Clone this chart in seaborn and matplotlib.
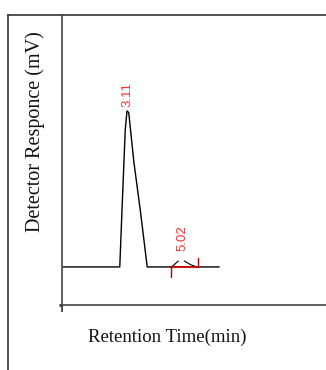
import numpy as np
import pandas as pd
import matplotlib
matplotlib.use("Agg")
import matplotlib.pyplot as plt
import seaborn as sns

# ─────────────────────────────────────────────
# DADOS (lidos do cromatograma)
# ─────────────────────────────────────────────

# traço principal: linha de base + pico em 3.11 min
tempo_min = [0.86, 2.86, 2.96, 3.05, 3.11, 3.17, 3.35, 3.58, 3.81, 6.30]
resposta_mv = [0.0, 0.0, 47.0, 88.0, 100.0, 99.0, 67.0, 35.0, 0.0, 0.0]

# pico pequeno em 5.02 min (dois trechos, com falha no topo)
pico2_subida_t = [4.65, 4.89]
pico2_subida_v = [0.0, 3.8]
pico2_descida_t = [5.09, 5.33, 5.54]
pico2_descida_v = [3.8, 1.3, 0.0]

# integração do pico pequeno (marcas vermelhas)
integ_inicio = 4.65
integ_fim = 5.57

# rótulos dos picos
rotulos_tr = ["3.11", "5.02"]
rotulos_altura = [100.0, 3.8]
rotulos_offset = [3, 7]

# ─────────────────────────────────────────────
# FIGURA
# ─────────────────────────────────────────────

sns.set_style("white")
plt.rcParams["font.family"] = ["Liberation Serif", "DejaVu Serif"]

W, H = 326, 370
fig = plt.figure(figsize=(W / 100, H / 100), dpi=100)

# moldura externa (só esquerda e topo)
moldura = fig.add_axes([8 / W, 0, 1 - 8 / W, 1 - 15 / H])
for lado in ["right", "bottom"]:
    moldura.spines[lado].set_visible(False)
for lado in ["left", "top"]:
    moldura.spines[lado].set_color("#333333")
    moldura.spines[lado].set_linewidth(1.2)
moldura.set_xticks([])
moldura.set_yticks([])
moldura.patch.set_alpha(0)

ax = fig.add_axes([62 / W, (H - 305) / H, 1 - 62 / W, (305 - 15) / H])
ax.patch.set_alpha(0)

x0, x1 = 0.86, 10.0
y0, y1 = -24.4, 161.5
ax.set_xlim(x0, x1)
ax.set_ylim(y0, y1)

df = pd.DataFrame({"t": tempo_min, "v": resposta_mv})
sns.lineplot(data=df, x="t", y="v", sort=False, estimator=None,
             color="black", linewidth=1.0, ax=ax)
sns.lineplot(x=pico2_subida_t, y=pico2_subida_v, sort=False, estimator=None,
             color="black", linewidth=0.8, ax=ax)
sns.lineplot(x=pico2_descida_t, y=pico2_descida_v, sort=False, estimator=None,
             color="black", linewidth=0.8, ax=ax)

# linha de integração
ax.plot([integ_inicio, integ_fim], [0, 0], color="#e00000", linewidth=1.2)
ax.plot([integ_inicio, integ_inicio], [0, -6.4], color="#b00000", linewidth=1.0)
ax.plot([integ_fim, integ_fim], [0, 5.8], color="#b00000", linewidth=1.0)

for tr, alt, off in zip(rotulos_tr, rotulos_altura, rotulos_offset):
    ax.annotate(tr, xy=(float(tr), alt), xytext=(0, off), textcoords="offset points",
                rotation=90, ha="center", va="bottom", color="#ff3030",
                fontsize=9.5, family=["Liberation Sans", "DejaVu Sans"])

for lado in ["right", "top"]:
    ax.spines[lado].set_visible(False)
for lado in ["left", "bottom"]:
    ax.spines[lado].set_color("#444444")
    ax.spines[lado].set_linewidth(1.2)

ax.set_xticks([x0])
ax.set_yticks([y0])
ax.set_xticklabels([])
ax.set_yticklabels([])
ax.tick_params(axis="x", direction="out", length=5, width=1.2, color="#333333", bottom=True)
ax.tick_params(axis="y", direction="out", length=2, width=2, color="#333333", left=True)

ax.set_xlabel("")
ax.set_ylabel("")
fig.text(167 / W, 1 - 337 / H, "Retention Time(min)", ha="center", va="center",
         fontsize=13.5, color="#111111")
fig.text(35 / W, 1 - 132 / H, "Detector Responce (mV)", ha="center", va="center",
         rotation=90, fontsize=14.5, color="#111111")

fig.savefig("out.png", dpi=100)
